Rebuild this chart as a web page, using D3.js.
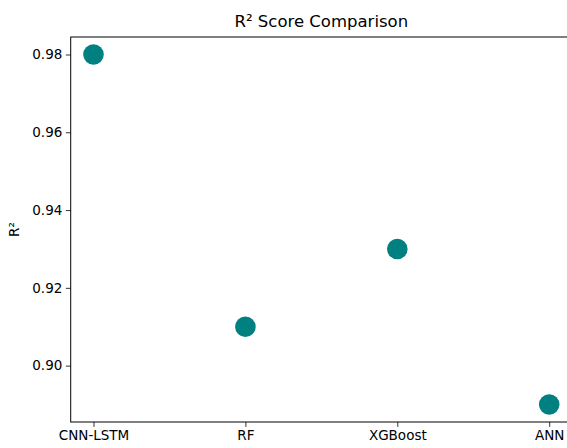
<!DOCTYPE html>
<html><head><meta charset="utf-8">
<script src="https://cdn.jsdelivr.net/npm/d3@7"></script>
<style>html,body{margin:0;padding:0;background:#fff;overflow:hidden}</style>
</head><body>
<script>
const categories = ["CNN-LSTM", "RF", "XGBoost", "ANN"];
const r2Values = [0.98, 0.91, 0.93, 0.89];
const yTicks = [0.90, 0.92, 0.94, 0.96, 0.98];

const W = 567, H = 448;
const pL = 70.7, pR = 572, pT = 37, pB = 422;
const svg = d3.select("body").append("svg").attr("width", W).attr("height", H)
  .style("font-family", "DejaVu Sans, sans-serif");

const x = d3.scalePoint().domain(categories).range([pL, pR]).padding(0.15);
const y = d3.scaleLinear().domain([0.8855, 0.9845]).range([pB, pT]);

// points
svg.append("g").selectAll("circle").data(categories).join("circle")
  .attr("cx", d => x(d)).attr("cy", (d, i) => y(r2Values[i]))
  .attr("r", 10.3).attr("fill", "#008080");

// axes
const xAxis = d3.axisBottom(x).tickSize(4.9).tickPadding(3.5);
const gx = svg.append("g").attr("transform", `translate(0,${pB})`).call(xAxis);
const yAxis = d3.axisLeft(y).tickValues(yTicks).tickFormat(d3.format(".2f")).tickSize(4.9).tickPadding(3.5);
const gy = svg.append("g").attr("transform", `translate(${pL},0)`).call(yAxis);
[gx, gy].forEach(g => {
  g.select(".domain").remove();
  g.selectAll(".tick line").attr("stroke", "#000").attr("stroke-width", 0.8);
  g.selectAll(".tick text").attr("fill", "#000").style("font-size", "13.5px").style("font-family", "DejaVu Sans, sans-serif");
});

// spines
svg.append("rect").attr("x", pL).attr("y", pT).attr("width", pR - pL).attr("height", pB - pT)
  .attr("fill", "none").attr("stroke", "#000").attr("stroke-width", 1);

// title
svg.append("text").attr("x", (pL + pR) / 2).attr("y", 27).attr("text-anchor", "middle")
  .style("font-size", "16.5px").attr("fill", "#000").text("R² Score Comparison");

// y label
svg.append("text").attr("transform", `translate(19,${(pT + pB) / 2}) rotate(-90)`)
  .attr("text-anchor", "middle").style("font-size", "13.5px").attr("fill", "#000").text("R²");
</script>
</body></html>
